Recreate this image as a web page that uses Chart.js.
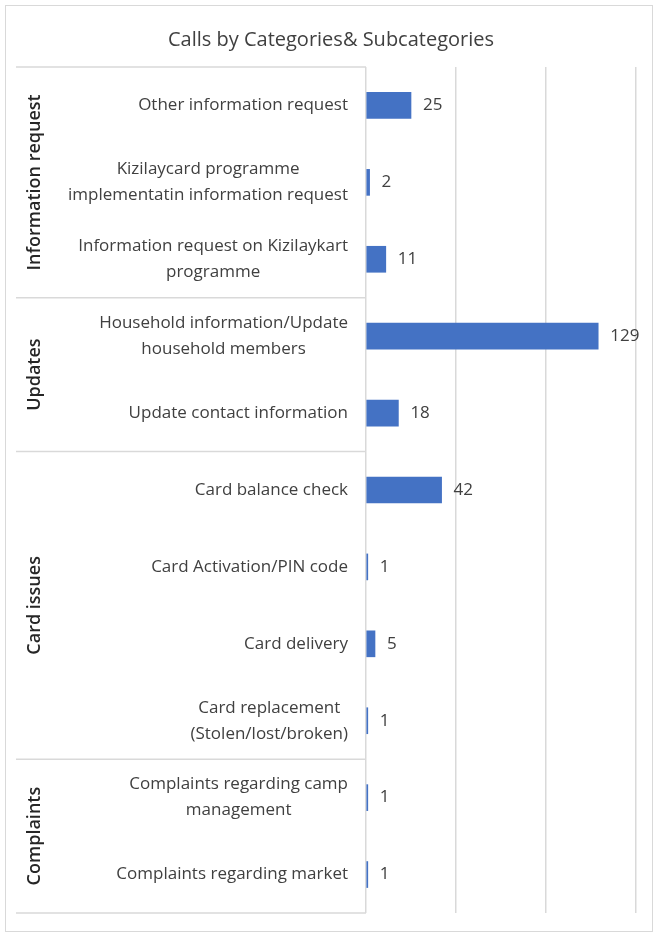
<!DOCTYPE html>
<html><head><meta charset="utf-8">
<script src="https://cdn.jsdelivr.net/npm/chart.js@4"></script>
<style>html,body{margin:0;padding:0;background:#fff;}</style>
</head><body>
<canvas id="c" width="654" height="935" style="display:block;width:654px;height:935px"></canvas>
<script>
const chartTitle = 'Calls by Categories& Subcategories';
const categories = [
  ['Other information request'],
  ['Kizilaycard programme', 'implementatin information request'],
  ['Information request on Kizilaykart', 'programme'],
  ['Household information/Update', 'household members'],
  ['Update contact information'],
  ['Card balance check'],
  ['Card Activation/PIN code'],
  ['Card delivery'],
  ['Card replacement', '(Stolen/lost/broken)'],
  ['Complaints regarding camp', 'management'],
  ['Complaints regarding market']
];
const values = [25, 2, 11, 129, 18, 42, 1, 5, 1, 1, 1];
const groupNames = ['Information request', 'Updates', 'Card issues', 'Complaints'];
const groupSizes = [3, 2, 4, 2];
const xTicks = [0, 50, 100, 150];

const FONT = '"Open Sans", "Liberation Sans", sans-serif';
const TEXT = '#404040';
const LINE = '#d9d9d9';

const decor = {
  id: 'decor',
  afterDraw(chart) {
    const ctx = chart.ctx, y = chart.scales.y, ca = chart.chartArea;
    ctx.save();
    // outer frame
    ctx.strokeStyle = LINE; ctx.lineWidth = 1;
    ctx.strokeRect(5.5, 5.5, 647, 926);
    // title
    ctx.fillStyle = TEXT; ctx.textAlign = 'center'; ctx.textBaseline = 'middle';
    ctx.font = '20px ' + FONT;
    ctx.fillText(chartTitle, 331, 40);
    // category labels
    ctx.font = '17px ' + FONT;
    const lh = 26;
    categories.forEach((lines, i) => {
      const cy = y.getPixelForValue(i);
      const widths = lines.map(l => ctx.measureText(l).width);
      const maxW = Math.max(...widths);
      const right = ca.left - 18;
      const center = right - maxW / 2;
      lines.forEach((l, k) => {
        const ly = cy + (k - (lines.length - 1) / 2) * lh;
        ctx.textAlign = 'center';
        ctx.fillText(l, center, ly);
      });
    });
    // group separators and labels
    ctx.strokeStyle = LINE; ctx.lineWidth = 1.5;
    let start = 0;
    const bound = (i) => {
      if (i <= 0) return ca.top;
      if (i >= categories.length) return ca.bottom;
      return (y.getPixelForValue(i - 1) + y.getPixelForValue(i)) / 2;
    };
    ctx.beginPath();
    ctx.moveTo(16, bound(0)); ctx.lineTo(ca.left, bound(0));
    groupSizes.forEach((n, g) => {
      const t = bound(start), b = bound(start + n);
      ctx.moveTo(16, b); ctx.lineTo(ca.left, b);
      ctx.save();
      ctx.translate(35, (t + b) / 2);
      ctx.rotate(-Math.PI / 2);
      ctx.fillStyle = '#262626';
      ctx.font = '600 18px ' + FONT;
      ctx.textAlign = 'center'; ctx.textBaseline = 'middle';
      ctx.fillText(groupNames[g], 0, 0);
      ctx.restore();
      start += n;
    });
    ctx.stroke();
    // data labels
    ctx.fillStyle = TEXT; ctx.font = '17px ' + FONT;
    ctx.textAlign = 'left'; ctx.textBaseline = 'middle';
    chart.getDatasetMeta(0).data.forEach((bar, i) => {
      ctx.fillText(String(values[i]), bar.x + 12, bar.y);
    });
    ctx.restore();
  }
};

new Chart(document.getElementById('c'), {
  type: 'bar',
  data: {
    labels: categories,
    datasets: [{
      data: values,
      backgroundColor: '#4472C4',
      borderWidth: 0,
      barThickness: 26
    }]
  },
  options: {
    indexAxis: 'y',
    responsive: false,
    animation: false,
    layout: { padding: { left: 16, top: 67, right: 18, bottom: 22 } },
    plugins: { legend: { display: false }, tooltip: { enabled: false }, title: { display: false } },
    scales: {
      x: {
        min: xTicks[0], max: xTicks[xTicks.length - 1],
        afterBuildTicks(s) { s.ticks = xTicks.map(v => ({ value: v })); },
        ticks: { display: false },
        grid: { color: LINE, lineWidth: 1.5, drawTicks: false },
        border: { display: false },
        afterFit(s) { s.height = 0; }
      },
      y: {
        ticks: { display: false },
        grid: { display: false },
        border: { display: false },
        afterFit(s) { s.width = 350; }
      }
    }
  },
  plugins: [decor]
});
</script>
</body></html>
